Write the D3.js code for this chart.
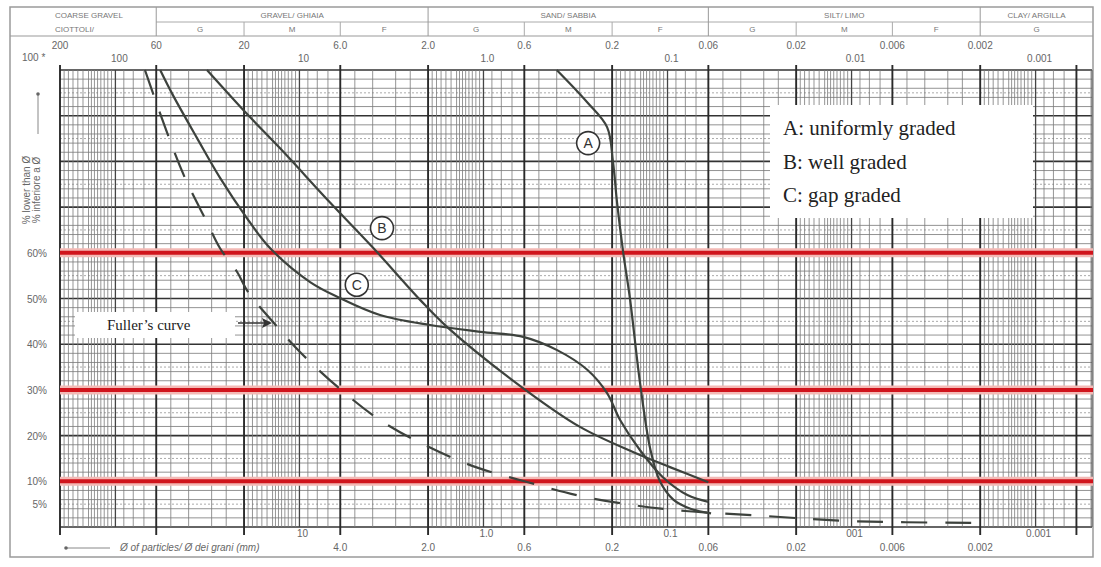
<!DOCTYPE html>
<html>
<head>
<meta charset="utf-8">
<script src="https://cdn.jsdelivr.net/npm/d3@7"></script>
<style>
  body { margin: 0; background: #fff; }
  svg { display: block; }
  .hdr { font-family: "Liberation Sans", Arial, sans-serif; font-size: 8px; fill: #777; }
  .tick { font-family: "Liberation Sans", Arial, sans-serif; font-size: 10px; fill: #666; }
  .serif { font-family: "Liberation Serif", "Times New Roman", serif; fill: #222; }
</style>
</head>
<body>
<div id="chart"></div>
<script>
// grain size (mm) and % passing
var sizeA = [0.40, 0.274, 0.213, 0.198, 0.188, 0.174, 0.160, 0.141, 0.124, 0.110, 0.093, 0.075, 0.058];
var passA = [100, 93, 87.5, 80, 71, 60, 50, 31.5, 17, 10, 6, 4, 3];

var sizeB = [31.8, 19.3, 12.7, 6.82, 3.98, 2.21, 1.58, 0.61, 0.299, 0.154, 0.097, 0.060];
var passB = [100, 90.4, 82.8, 71, 61.1, 49.7, 43.8, 30.4, 21.9, 16.4, 13.1, 9.8];

var sizeC = [57.1, 48.7, 36.0, 27.0, 19.3, 14.5, 8.75, 6.02, 3.65, 1.95, 1.04, 0.609, 0.398, 0.273, 0.213, 0.181, 0.141, 0.106, 0.078, 0.060];
var passC = [100, 94.5, 85.1, 76.4, 67.6, 61.1, 53.6, 50.1, 46.4, 44.2, 42.7, 41.6, 38.7, 34.4, 29.3, 23.4, 16.8, 10.9, 7.0, 5.5];

var sizeFuller = [69.1, 52.5, 41.9, 31.8, 27.0, 21.8, 19.0, 13.2, 9.93, 6.02, 3.65, 2.03, 1.10, 0.573, 0.299, 0.154, 0.080, 0.0347, 0.0102, 0.0020];
var passFuller = [100, 86.4, 76.4, 66.7, 61, 55.8, 51.4, 43.8, 38.3, 30.2, 23.4, 17.7, 13.1, 9.8, 6.8, 4.8, 3.5, 2.6, 1.3, 0.9];

var redLevels = [60, 30, 10];

var yTicks = [60, 50, 40, 30, 20, 10, 5];

var topTicks1 = [200, 60, 20, 6, 2, 0.6, 0.2, 0.06, 0.02, 0.006, 0.002];
var topLabels1 = ["200", "60", "20", "6.0", "2.0", "0.6", "0.2", "0.06", "0.02", "0.006", "0.002"];
var topTicks2 = [100, 10, 1, 0.1, 0.01, 0.001];
var topLabels2 = ["100", "10", "1.0", "0.1", "0.01", "0.001"];
var bottomTicks1 = [10, 1, 0.1, 0.01, 0.001];
var bottomLabels1 = ["10", "1.0", "0.1", "001", "0.001"];
var bottomTicks2 = [6, 2, 0.6, 0.2, 0.06, 0.02, 0.006, 0.002];
var bottomLabels2 = ["4.0", "2.0", "0.6", "0.2", "0.06", "0.02", "0.006", "0.002"];

var classBounds = [60, 2, 0.06, 0.002];
var subBounds = [20, 6, 0.6, 0.2, 0.02, 0.006];
var classNames = ["GRAVEL/ GHIAIA", "SAND/ SABBIA", "SILT/ LIMO", "CLAY/ ARGILLA"];
var subNames = ["G", "M", "F", "G", "M", "F", "G", "M", "F", "G"];

var curveLabels = [
    {name: "A", d: 0.270, p: 84},
    {name: "B", d: 3.56, p: 65.4},
    {name: "C", d: 4.88, p: 53}
];

var W = 1101, H = 567;
var plotLeft = 60, plotRight = 1092, plotTop = 70, plotBottom = 527;

var svg = d3.select("#chart").append("svg").attr("width", W).attr("height", H);

var x = d3.scaleLog().domain([200, 0.0005]).range([plotLeft, 1091]);
var y = d3.scaleLinear().domain([0, 100]).range([plotBottom, plotTop]);

// outer frame
svg.append("rect").attr("x", 10).attr("y", 7).attr("width", 1083).attr("height", 550)
    .attr("fill", "none").attr("stroke", "#9a9a9a").attr("stroke-width", 1.5);

// header table
var hdr = svg.append("g");
hdr.append("line").attr("x1", 10).attr("x2", 1093).attr("y1", 36).attr("y2", 36).attr("stroke", "#999");
hdr.append("line").attr("x1", x(60)).attr("x2", 1093).attr("y1", 22).attr("y2", 22).attr("stroke", "#aaa");
classBounds.forEach(function (d) {
    hdr.append("line").attr("x1", x(d)).attr("x2", x(d)).attr("y1", 7).attr("y2", 36).attr("stroke", "#999");
});
subBounds.forEach(function (d) {
    hdr.append("line").attr("x1", x(d)).attr("x2", x(d)).attr("y1", 22).attr("y2", 36).attr("stroke", "#aaa");
});
var bEdges = classBounds.concat([0.0005]);
classNames.forEach(function (n, i) {
    var x0 = x(bEdges[i]), x1 = i < 3 ? x(bEdges[i + 1]) : 1093;
    hdr.append("text").attr("class", "hdr").attr("x", (x0 + x1) / 2).attr("y", 18)
        .attr("text-anchor", "middle").text(n);
});
var sEdges = [60, 20, 6, 2, 0.6, 0.2, 0.06, 0.02, 0.006, 0.002];
subNames.forEach(function (n, i) {
    var x0 = x(sEdges[i]), x1 = i < 9 ? x(sEdges[i + 1]) : 1093;
    hdr.append("text").attr("class", "hdr").attr("x", (x0 + x1) / 2).attr("y", 32)
        .attr("text-anchor", "middle").text(n);
});
hdr.append("text").attr("class", "hdr").attr("x", 55).attr("y", 18).text("COARSE GRAVEL");
hdr.append("text").attr("class", "hdr").attr("x", 55).attr("y", 32).text("CIOTTOLI/");

// grid
var grid = svg.append("g");
var hMinor = d3.range(0, 101, 2);
grid.selectAll(".hm").data(hMinor).enter().append("line")
    .attr("x1", plotLeft).attr("x2", plotRight)
    .attr("y1", function (d) { return y(d); }).attr("y2", function (d) { return y(d); })
    .attr("stroke", function (d) { return d % 10 === 0 ? "#333" : "#777"; })
    .attr("stroke-width", function (d) { return d % 10 === 0 ? 1.6 : 0.8; });
grid.selectAll(".hd").data(d3.range(5, 100, 10)).enter().append("line")
    .attr("x1", plotLeft).attr("x2", plotRight)
    .attr("y1", function (d) { return y(d); }).attr("y2", function (d) { return y(d); })
    .attr("stroke", "#aaa").attr("stroke-width", 1).attr("stroke-dasharray", "2,2");

var mant = [1, 1.05, 1.1, 1.15, 1.2, 1.25, 1.3, 1.35, 1.4, 1.5, 1.6, 1.7, 1.8, 1.9, 2, 2.5, 3, 4, 5, 6, 7, 8, 9];
var vLines = [];
for (var k = -4; k <= 2; k++) {
    mant.forEach(function (m) {
        var v = m * Math.pow(10, k);
        if (v <= 200.001 && v >= 0.0005) vLines.push({v: v, m: m});
    });
}
function isMajor(d) { return d.m === 2 || d.m === 6; }
grid.selectAll(".vl").data(vLines).enter().append("line")
    .attr("x1", function (d) { return x(d.v); }).attr("x2", function (d) { return x(d.v); })
    .attr("y1", function (d) { return isMajor(d) ? plotTop - 5 : plotTop; })
    .attr("y2", function (d) { return isMajor(d) ? plotBottom + 8 : plotBottom; })
    .attr("stroke", function (d) { return isMajor(d) ? "#2a2a2a" : d.m === 1 ? "#444" : "#7a7a7a"; })
    .attr("stroke-width", function (d) { return isMajor(d) ? 1.9 : d.m === 1 ? 1.3 : 0.8; });
grid.append("line").attr("x1", plotRight).attr("x2", plotRight).attr("y1", plotTop).attr("y2", plotBottom)
    .attr("stroke", "#555").attr("stroke-width", 1);

// red reference lines
redLevels.forEach(function (p) {
    svg.append("line").attr("x1", plotLeft).attr("x2", 1093).attr("y1", y(p)).attr("y2", y(p))
        .attr("stroke", "#f3b9b5").attr("stroke-width", 9);
    svg.append("line").attr("x1", plotLeft).attr("x2", 1093).attr("y1", y(p)).attr("y2", y(p))
        .attr("stroke", "#d0141c").attr("stroke-width", 4);
});

// curves
var line = d3.line()
    .x(function (d) { return x(d[0]); })
    .y(function (d) { return y(d[1]); })
    .curve(d3.curveCatmullRom.alpha(0.5));

function drawCurve(sizes, pass, dash) {
    svg.append("path").datum(d3.zip(sizes, pass))
        .attr("d", line).attr("fill", "none")
        .attr("stroke", "#3d423d").attr("stroke-width", 2.2)
        .attr("stroke-dasharray", dash || null);
}
drawCurve(sizeFuller, passFuller, "26,18");
drawCurve(sizeC, passC);
drawCurve(sizeB, passB);
drawCurve(sizeA, passA);

// circled curve names
curveLabels.forEach(function (c) {
    svg.append("circle").attr("cx", x(c.d)).attr("cy", y(c.p)).attr("r", 11.5)
        .attr("fill", "#fff").attr("stroke", "#333").attr("stroke-width", 1.6);
    svg.append("text").attr("x", x(c.d)).attr("y", y(c.p) + 5).attr("text-anchor", "middle")
        .attr("font-family", "Liberation Sans, Arial, sans-serif").attr("font-size", 14).attr("fill", "#333")
        .text(c.name);
});

// axis labels
yTicks.forEach(function (p) {
    svg.append("text").attr("class", "tick").attr("x", 47).attr("y", y(p) + 4)
        .attr("text-anchor", "end").text(p + "%");
});
svg.append("text").attr("class", "tick").attr("x", 22).attr("y", 61).text("100 *");

topTicks1.forEach(function (d, i) {
    svg.append("text").attr("class", "tick").attr("x", x(d)).attr("y", 49)
        .attr("text-anchor", "middle").text(topLabels1[i]);
});
topTicks2.forEach(function (d, i) {
    svg.append("text").attr("class", "tick").attr("x", x(d) + 4).attr("y", 62)
        .attr("text-anchor", "middle").text(topLabels2[i]);
});
bottomTicks1.forEach(function (d, i) {
    svg.append("text").attr("class", "tick").attr("x", x(d) + 3).attr("y", 537)
        .attr("text-anchor", "middle").text(bottomLabels1[i]);
});
bottomTicks2.forEach(function (d, i) {
    svg.append("text").attr("class", "tick").attr("x", x(d)).attr("y", 551)
        .attr("text-anchor", "middle").text(bottomLabels2[i]);
});

// axis titles
svg.append("line").attr("x1", 110).attr("x2", 66).attr("y1", 548).attr("y2", 548)
    .attr("stroke", "#888").attr("stroke-width", 1);
svg.append("circle").attr("cx", 66).attr("cy", 548).attr("r", 1.8).attr("fill", "#666");
svg.append("text").attr("class", "tick").attr("x", 120).attr("y", 551)
    .attr("font-style", "italic").attr("font-size", 9).text("Ø of particles/ Ø dei grani (mm)");

var yt = svg.append("g").attr("transform", "translate(30,190) rotate(-90)");
yt.append("text").attr("class", "tick").attr("font-size", 8).attr("text-anchor", "middle").text("% lower than Ø");
yt.append("text").attr("class", "tick").attr("font-size", 8).attr("y", 10).attr("text-anchor", "middle").text("% inferiore a Ø");
svg.append("line").attr("x1", 38).attr("x2", 38).attr("y1", 134).attr("y2", 95)
    .attr("stroke", "#888").attr("stroke-width", 1);
svg.append("circle").attr("cx", 38).attr("cy", 94).attr("r", 1.8).attr("fill", "#666");

// legend box
svg.append("rect").attr("x", 770).attr("y", 105).attr("width", 263).attr("height", 113).attr("fill", "#fff");
["A: uniformly graded", "B: well graded", "C: gap graded"].forEach(function (t, i) {
    svg.append("text").attr("class", "serif").attr("x", 783).attr("y", 135 + i * 33.5)
        .attr("font-size", 21).text(t);
});

// Fuller's curve note
svg.append("rect").attr("x", 75).attr("y", 312).attr("width", 160).attr("height", 26).attr("fill", "#fff");
svg.append("text").attr("class", "serif").attr("x", 107).attr("y", 330).attr("font-size", 15).text("Fuller’s curve");
svg.append("line").attr("x1", 238).attr("x2", 268).attr("y1", 323).attr("y2", 323)
    .attr("stroke", "#333").attr("stroke-width", 1.5);
svg.append("path").attr("d", "M272,323 L262,318 L264,323 L262,328 Z").attr("fill", "#333");
</script>
</body>
</html>
